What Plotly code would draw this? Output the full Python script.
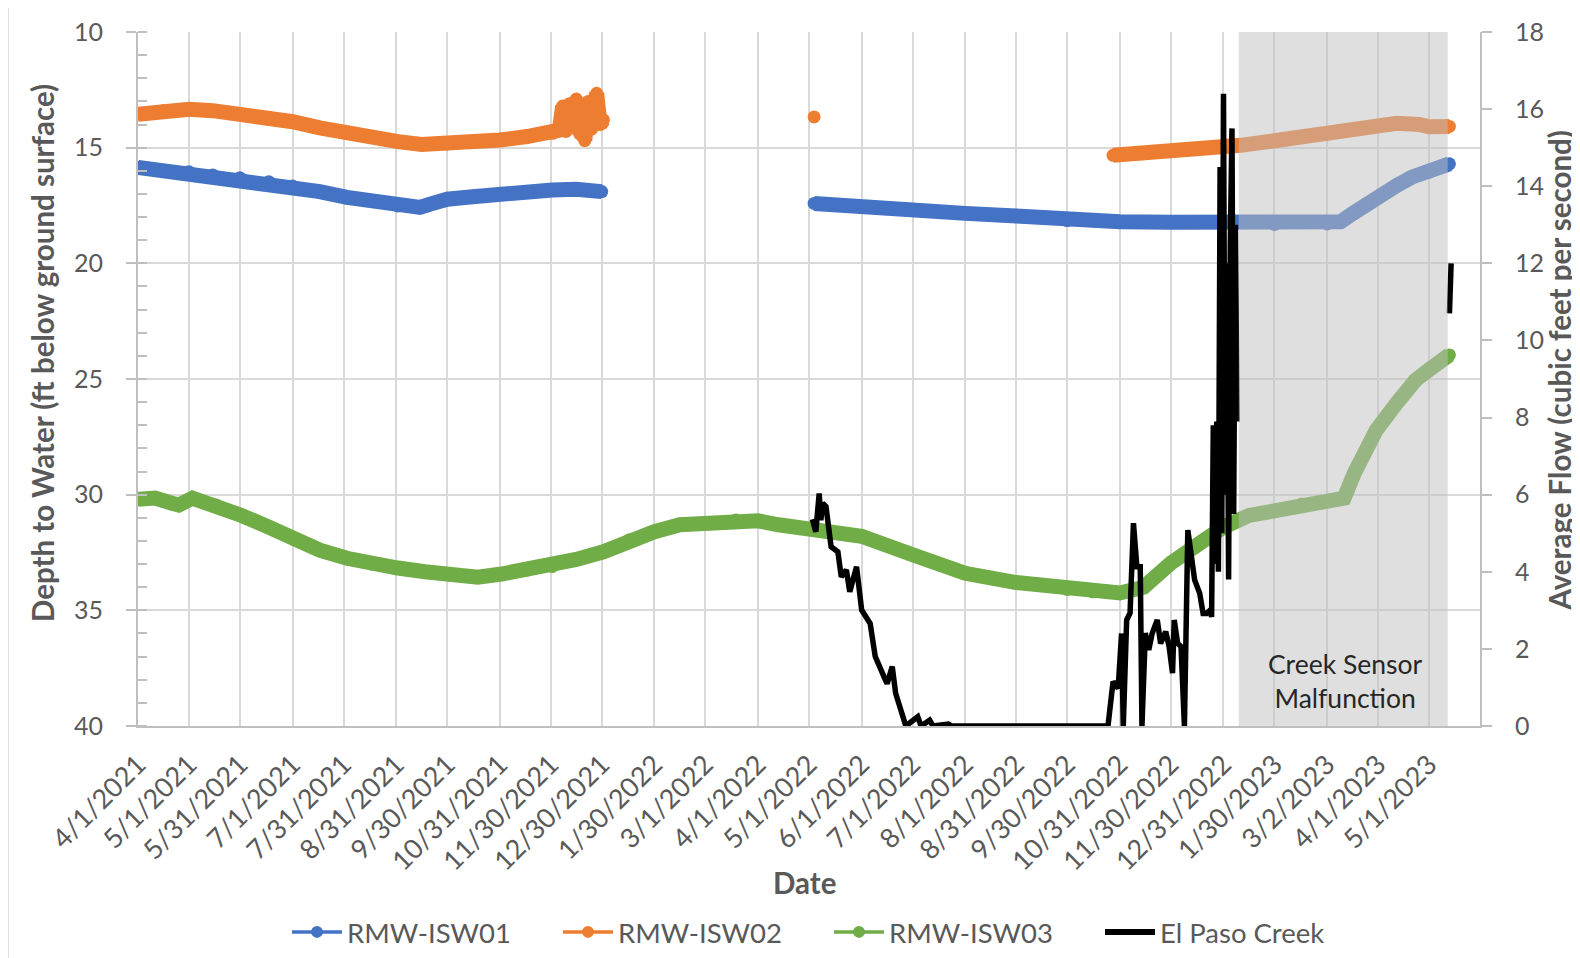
import plotly.graph_objects as go

# ---------------- data ----------------
tick_dates = ["2021-04-01", "2021-05-01", "2021-05-31", "2021-07-01", "2021-07-31", "2021-08-31",
              "2021-09-30", "2021-10-31", "2021-11-30", "2021-12-30", "2022-01-30", "2022-03-01",
              "2022-04-01", "2022-05-01", "2022-06-01", "2022-07-01", "2022-08-01", "2022-08-31",
              "2022-09-30", "2022-10-31", "2022-11-30", "2022-12-31", "2023-01-30", "2023-03-02",
              "2023-04-01", "2023-05-01"]
tick_labels = ["4/1/2021", "5/1/2021", "5/31/2021", "7/1/2021", "7/31/2021", "8/31/2021",
               "9/30/2021", "10/31/2021", "11/30/2021", "12/30/2021", "1/30/2022", "3/1/2022",
               "4/1/2022", "5/1/2022", "6/1/2022", "7/1/2022", "8/1/2022", "8/31/2022",
               "9/30/2022", "10/31/2022", "11/30/2022", "12/31/2022", "1/30/2023", "3/2/2023",
               "4/1/2023", "5/1/2023"]

isw01_dates = ["2021-04-01", "2021-04-16", "2021-05-01", "2021-05-15", "2021-05-31", "2021-06-17",
               "2021-07-01", "2021-07-17", "2021-08-02", "2021-08-17", "2021-09-01", "2021-09-14",
               "2021-09-20", "2021-09-30", "2021-10-15", "2021-10-31", "2021-11-16", "2021-12-01",
               "2021-12-15", "2021-12-30", "2022-03-01",
               "2022-05-04", "2022-06-01", "2022-07-01", "2022-08-01", "2022-08-31", "2022-09-30",
               "2022-10-31", "2022-11-30", "2022-12-31", "2023-01-10", "2023-01-30", "2023-03-02",
               "2023-03-10", "2023-03-17", "2023-03-25", "2023-04-02", "2023-04-12", "2023-04-21",
               "2023-05-01", "2023-05-13"]
isw01_depth = [15.85, 16.0, 16.04, 16.18, 16.3, 16.47,
               16.66, 16.9, 17.15, 17.33, 17.52, 17.58,
               17.44, 17.23, 17.12, 16.97, 16.9, 16.83,
               16.8, 16.9, None,
               17.41, 17.58, 17.7, 17.84, 17.95, 18.15,
               18.2, 18.22, 18.25, 18.2, 18.32, 18.3,
               18.2, 17.85, 17.42, 17.06, 16.63, 16.27,
               16.06, 15.7]

isw02_dates = ["2021-04-01", "2021-04-16", "2021-05-01", "2021-05-15", "2021-05-31", "2021-06-17",
               "2021-07-01", "2021-07-17", "2021-08-02", "2021-08-17", "2021-09-01", "2021-09-15",
               "2021-09-30", "2021-10-15", "2021-10-31", "2021-11-16", "2021-12-01", "2021-12-05",
               "2021-12-07", "2021-12-09", "2021-12-11", "2021-12-13", "2021-12-15", "2021-12-17",
               "2021-12-19", "2021-12-20", "2021-12-22", "2021-12-24", "2021-12-25", "2021-12-27",
               "2021-12-29", "2021-12-31", "2022-03-01",
               "2022-05-04", "2022-08-01",
               "2022-10-27", "2022-11-15", "2022-11-30", "2022-12-15", "2022-12-31", "2023-01-10",
               "2023-01-30", "2023-03-02", "2023-04-01", "2023-04-12", "2023-04-25", "2023-05-01",
               "2023-05-13"]
isw02_depth = [13.56, 13.4, 13.34, 13.4, 13.52, 13.69,
               13.88, 14.14, 14.38, 14.55, 14.74, 14.86,
               14.84, 14.78, 14.67, 14.52, 14.38, 14.24,
               13.2, 14.3, 13.1, 14.0, 12.9, 14.4,
               13.3, 14.7, 13.0, 14.2, 13.4, 12.65,
               14.0, 13.8, None,
               13.67, None,
               15.33, 15.24, 15.15, 15.06, 14.97, 14.9,
               14.7, 14.42, 14.08, 13.95, 14.0, 14.1,
               14.08]

isw03_dates = ["2021-04-01", "2021-04-11", "2021-04-21", "2021-04-25", "2021-05-03", "2021-05-17",
               "2021-06-01", "2021-06-17", "2021-07-02", "2021-07-17", "2021-08-02", "2021-08-17",
               "2021-09-01", "2021-09-17", "2021-10-01", "2021-10-18", "2021-11-01", "2021-11-16",
               "2021-12-01", "2021-12-15", "2021-12-31", "2022-01-15", "2022-01-30", "2022-02-14",
               "2022-03-01", "2022-03-19", "2022-04-01", "2022-04-13", "2022-05-01", "2022-06-01",
               "2022-07-01", "2022-08-01", "2022-08-31", "2022-09-30", "2022-10-15", "2022-10-31",
               "2022-11-14", "2022-11-30", "2022-12-17", "2022-12-31", "2023-01-15", "2023-01-30",
               "2023-02-15", "2023-03-02", "2023-03-12", "2023-03-18", "2023-03-23", "2023-03-31",
               "2023-04-12", "2023-04-23", "2023-05-01", "2023-05-13"]
isw03_depth = [30.2, 30.15, 30.37, 30.45, 30.15, 30.45,
               30.9, 31.4, 31.96, 32.4, 32.75, 33.0,
               33.17, 33.33, 33.47, 33.57, 33.43, 33.26,
               33.1, 32.8, 32.47, 31.96, 31.6, 31.3,
               31.24, 31.1, 31.13, 31.3, 31.5, 31.8,
               32.6, 33.4, 33.8, 34.1, 34.2, 34.25,
               34.0, 32.96, 32.1, 31.4, 30.9, 30.7,
               30.4, 30.3, 30.15, 29.07, 28.37, 27.2,
               26.04, 25.05, 24.6, 23.96]

creek_dates = ["2022-05-03", "2022-05-05", "2022-05-07", "2022-05-08", "2022-05-09", "2022-05-11",
               "2022-05-14", "2022-05-18", "2022-05-20", "2022-05-23", "2022-05-25", "2022-05-29",
               "2022-06-01", "2022-06-04", "2022-06-06", "2022-06-09", "2022-06-12", "2022-06-15",
               "2022-06-16", "2022-06-19", "2022-06-21", "2022-06-25", "2022-06-27", "2022-07-04",
               "2022-07-06", "2022-07-11", "2022-07-13", "2022-07-22", "2022-07-24", "2022-10-24",
               "2022-10-27", "2022-10-30", "2022-11-01", "2022-11-02", "2022-11-04", "2022-11-06",
               "2022-11-08", "2022-11-10", "2022-11-12", "2022-11-13", "2022-11-15", "2022-11-17",
               "2022-11-19", "2022-11-22", "2022-11-24", "2022-11-27", "2022-11-29", "2022-12-01",
               "2022-12-02", "2022-12-04", "2022-12-06", "2022-12-08", "2022-12-10", "2022-12-14",
               "2022-12-17", "2022-12-19", "2022-12-21", "2022-12-23", "2022-12-24", "2022-12-25",
               "2022-12-26", "2022-12-27", "2022-12-28", "2022-12-29", "2022-12-30", "2022-12-31",
               "2023-01-01", "2023-01-02", "2023-01-03", "2023-01-04", "2023-01-05", "2023-01-06",
               "2023-01-07", "2023-01-08", "2023-03-01", "2023-05-13", "2023-05-14"]
creek_flow = [5.36, 5.04, 6.03, 5.34, 5.78, 5.69,
              4.65, 4.52, 3.87, 4.05, 3.48, 4.13,
              3.01, 2.83, 2.66, 1.8, 1.45, 1.19,
              1.1, 1.54, 0.85, 0.24, 0.0, 0.24,
              0.0, 0.15, 0.0, 0.05, 0.0, 0.0,
              1.15, 0.98, 2.4, 0.0, 2.75, 2.93,
              5.26, 4.13, 4.13, 0.0, 2.41, 1.97,
              2.4, 2.75, 2.14, 2.45, 2.06, 1.37,
              2.75, 2.14, 2.06, 0.0, 5.08, 3.79,
              3.44, 2.92, 2.92, 3.0, 2.83, 7.8,
              4.2, 7.9, 4.0, 14.5, 5.0, 16.4,
              6.0, 12.0, 3.8, 12.5, 15.5, 5.5,
              13.0, 7.9, None, 10.7, 12.0]

assert len(isw01_dates) == len(isw01_depth)
assert len(isw02_dates) == len(isw02_depth)
assert len(isw03_dates) == len(isw03_depth)
assert len(creek_dates) == len(creek_flow)

malfunction_start = "2023-01-09"
malfunction_end = "2023-05-12"

# ---------------- style ----------------
BLUE, ORANGE, GREEN, BLACK = "#4472C4", "#ED7D31", "#70AD47", "#000000"
TXT = "#595959"
GRID = "#D9D9D9"
AXIS = "#BFBFBF"
FONT = "Lato"

fig = go.Figure()

for name, xs, ys, col in [("RMW-ISW01", isw01_dates, isw01_depth, BLUE),
                          ("RMW-ISW02", isw02_dates, isw02_depth, ORANGE),
                          ("RMW-ISW03", isw03_dates, isw03_depth, GREEN)]:
    fig.add_trace(go.Scatter(x=xs, y=ys, mode="lines+markers", name=name, showlegend=False,
                             line=dict(color=col, width=15),
                             marker=dict(color=col, size=13, line=dict(width=0)),
                             connectgaps=False, yaxis="y"))

fig.add_trace(go.Scatter(x=creek_dates, y=creek_flow, mode="lines", name="El Paso Creek",
                         showlegend=False, line=dict(color=BLACK, width=5.5),
                         connectgaps=False, yaxis="y2"))

# legend entries
for name, col in [("RMW-ISW01", BLUE), ("RMW-ISW02", ORANGE), ("RMW-ISW03", GREEN)]:
    fig.add_trace(go.Scatter(x=[None], y=[None], mode="lines+markers", name=name,
                             line=dict(color=col, width=3.5),
                             marker=dict(color=col, size=12, line=dict(width=0))))
fig.add_trace(go.Scatter(x=[None], y=[None], mode="lines", name="El Paso Creek",
                         line=dict(color=BLACK, width=6)))

# page has an 8px body margin: design in page coordinates and shift
OFF = 8
W, H = 1580 - OFF, 958 - OFF
L, T = 138 - OFF, 32 - OFF
R = W - (1480 - OFF)
B = H - (726 - OFF)
pw, ph = W - L - R, H - T - B


def px(x):
    return (x - OFF - L) / pw


def py(y):
    return (H - B - (y - OFF)) / ph


fig.update_layout(
    width=W, height=H,
    margin=dict(l=L, r=R, t=T, b=B, autoexpand=False),
    paper_bgcolor="white", plot_bgcolor="white",
    font=dict(family=FONT, color=TXT, size=25),
    xaxis=dict(type="date", range=["2021-04-01", "2023-05-31"], tickmode="array",
               tickvals=tick_dates, ticktext=tick_labels, tickangle=-45,
               showgrid=True, gridcolor=GRID, gridwidth=2,
               showline=True, linecolor=AXIS, linewidth=2, ticks="",
               ticklabelstandoff=10,
               tickfont=dict(family=FONT, size=27, color=TXT), zeroline=False),
    yaxis=dict(range=[40, 10], tickmode="array", tickvals=[10, 15, 20, 25, 30, 35, 40],
               showgrid=True, gridcolor=GRID, gridwidth=2,
               showline=True, linecolor=AXIS, linewidth=2,
               ticks="outside", ticklen=10, tickcolor=AXIS, tickwidth=2,
               ticklabelstandoff=18,
               minor=dict(ticks="inside", ticklen=9, tickcolor=AXIS, tickwidth=2, dtick=1,
                          tick0=10, showgrid=False),
               tickfont=dict(family=FONT, size=25, color=TXT), zeroline=False),
    yaxis2=dict(overlaying="y", side="right", range=[0, 18], tickmode="array",
                tickvals=[0, 2, 4, 6, 8, 10, 12, 14, 16, 18], showgrid=False,
                showline=True, linecolor=AXIS, linewidth=2,
                ticks="outside", ticklen=10, tickcolor=AXIS, tickwidth=2,
                ticklabelstandoff=18,
                tickfont=dict(family=FONT, size=25, color=TXT), zeroline=False),
    legend=dict(orientation="h", x=px(287), xanchor="left", y=py(932), yanchor="middle",
                font=dict(family=FONT, size=27.5, color=TXT), entrywidth=206,
                entrywidthmode="pixels", bgcolor="rgba(0,0,0,0)", itemwidth=50),
    shapes=[
        dict(type="rect", xref="x", yref="paper", x0=malfunction_start, x1=malfunction_end,
             y0=0, y1=1, fillcolor="#BFBFBF", opacity=0.5, line=dict(width=0), layer="above"),
        dict(type="rect", xref="paper", yref="paper", x0=px(8), x1=px(1600), y0=py(5), y1=py(980),
             line=dict(color=GRID, width=1.5), fillcolor="rgba(0,0,0,0)", layer="below"),
    ],
    annotations=[
        dict(text="Creek Sensor<br>Malfunction", xref="paper", yref="paper", x=px(1345), y=py(681),
             xanchor="center", yanchor="middle",
             showarrow=False, font=dict(family=FONT, size=26.5, color="#262626"), align="center"),
        dict(text="Depth to Water (ft below ground surface)", xref="paper", yref="paper",
             x=px(42), y=py(353), textangle=-90, showarrow=False, xanchor="center", yanchor="middle",
             font=dict(family=FONT, size=29.5, color=TXT, weight="bold")),
        dict(text="Average Flow (cubic feet per second)", xref="paper", yref="paper",
             x=px(1578), y=py(371), textangle=-90, showarrow=False, xanchor="right",
             yanchor="middle",
             font=dict(family=FONT, size=29.5, color=TXT, weight="bold")),
        dict(text="Date", xref="paper", yref="paper", x=px(804), y=py(882), showarrow=False,
             xanchor="center", yanchor="middle",
             font=dict(family=FONT, size=29.5, color=TXT, weight="bold")),
    ],
)

fig.write_html("out.html")
